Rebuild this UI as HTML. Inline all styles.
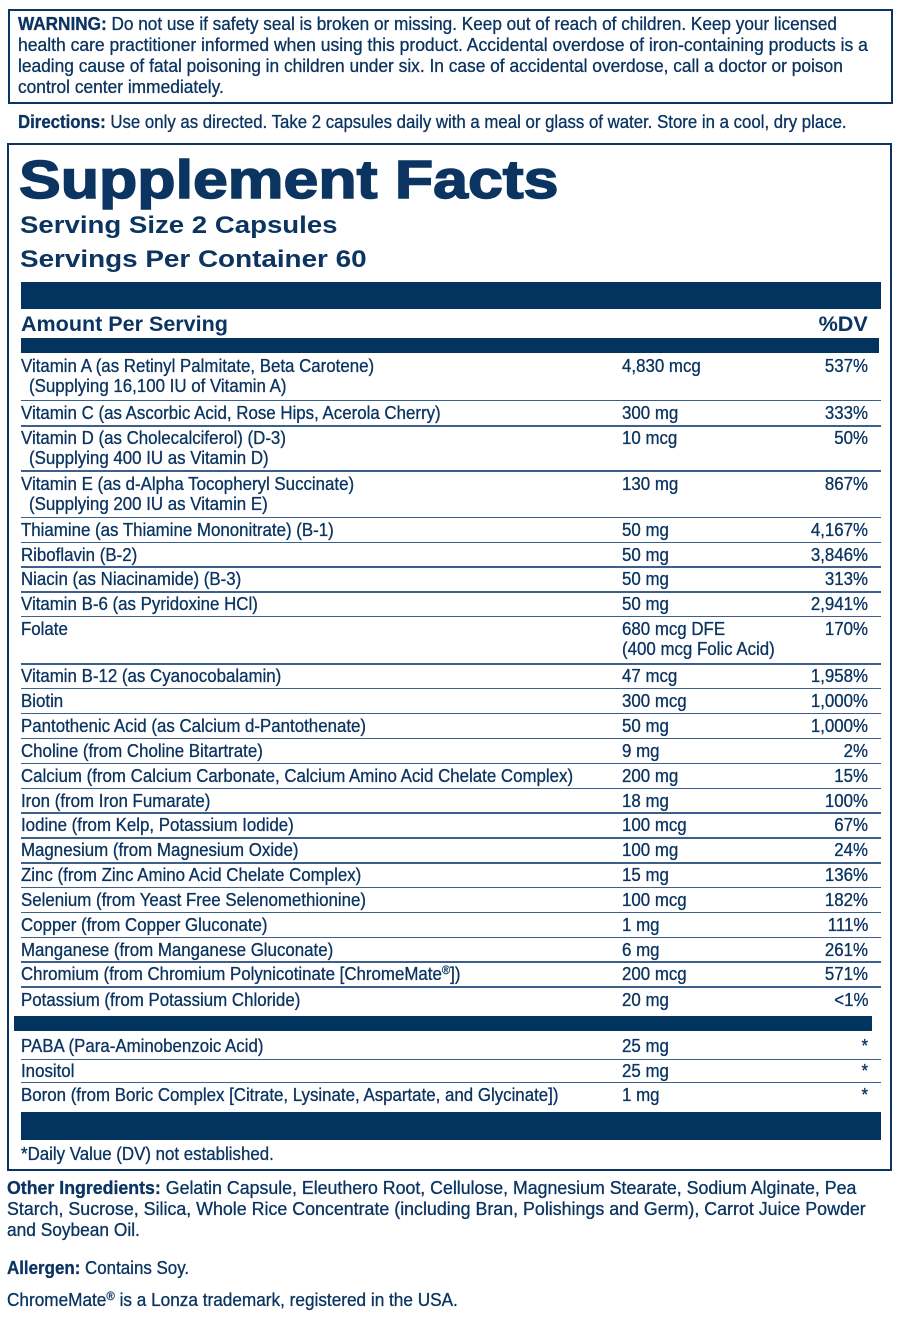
<!DOCTYPE html>
<html><head><meta charset="utf-8">
<style>
html,body{margin:0;padding:0;background:#fff;}
body{width:900px;height:1320px;position:relative;overflow:hidden;font-family:"Liberation Sans",Arial,sans-serif;color:#0b3461;}
.s{position:absolute;white-space:nowrap;font-size:18px;line-height:20px;transform-origin:0 0;transform:scaleX(.937);-webkit-text-stroke:0.3px #0b3461;}
.r{transform-origin:100% 0;right:31.7px;}
.w{position:absolute;white-space:nowrap;font-size:18px;line-height:21px;transform-origin:0 0;left:18.3px;-webkit-text-stroke:0.3px #0b3461;}
.b{position:absolute;background:#03345f;}
.ln{position:absolute;left:20.7px;width:860.3px;height:1.5px;background:#3d5f8c;}
.box{position:absolute;border:2px solid #0c3461;box-sizing:border-box;}
sup{font-size:12px;vertical-align:6px;line-height:0;}
</style></head><body>

<div class="box" style="left:7.5px;top:8.5px;width:885px;height:95px;"></div>
<div class="w" style="top:14px;transform:scaleX(.954)"><b>WARNING:</b> Do not use if safety seal is broken or missing. Keep out of reach of children. Keep your licensed</div>
<div class="w" style="top:35px;transform:scaleX(.973)">health care practitioner informed when using this product. Accidental overdose of iron-containing products is a</div>
<div class="w" style="top:56px;transform:scaleX(.963)">leading cause of fatal poisoning in children under six. In case of accidental overdose, call a doctor or poison</div>
<div class="w" style="top:77px;transform:scaleX(.963)">control center immediately.</div>

<div class="w" style="top:111.6px;transform:scaleX(.933)"><b>Directions:</b> Use only as directed. Take 2 capsules daily with a meal or glass of water. Store in a cool, dry place.</div>

<div class="box" style="left:7.3px;top:143px;width:885px;height:1028px;"></div>

<div style="position:absolute;left:19px;top:152.6px;font-size:54px;line-height:54px;font-weight:bold;white-space:nowrap;transform-origin:0 0;transform:scaleX(1.16);-webkit-text-stroke:1.5px #0b3461;">Supplement Facts</div>
<div style="position:absolute;left:20px;top:214px;font-size:24px;line-height:24px;font-weight:bold;white-space:nowrap;transform-origin:0 0;transform:scaleX(1.15);">Serving Size 2 Capsules</div>
<div style="position:absolute;left:20px;top:247.7px;font-size:24px;line-height:24px;font-weight:bold;white-space:nowrap;transform-origin:0 0;transform:scaleX(1.16);">Servings Per Container 60</div>

<div class="b" style="left:20.7px;top:281.7px;width:860px;height:27.3px;"></div>
<div style="position:absolute;left:20.7px;top:313.9px;font-size:21px;line-height:21px;font-weight:bold;white-space:nowrap;transform-origin:0 0;transform:scaleX(1.025);">Amount Per Serving</div>
<div style="position:absolute;right:31.7px;top:313.9px;font-size:21px;line-height:21px;font-weight:bold;white-space:nowrap;transform-origin:100% 0;transform:scaleX(1.03);">%DV</div>
<div class="b" style="left:20.7px;top:338px;width:858.3px;height:15px;"></div>

<!-- Vitamin A -->
<div class="s" style="left:20.7px;top:355.75px">Vitamin A (as Retinyl Palmitate, Beta Carotene)</div>
<div class="s" style="left:29px;top:375.75px">(Supplying 16,100 IU of Vitamin A)</div>
<div class="s" style="left:622.3px;top:355.75px">4,830 mcg</div>
<div class="s r" style="top:355.75px">537%</div>
<div class="ln" style="top:399.5px"></div>
<!-- Vitamin C -->
<div class="s" style="left:20.7px;top:402.75px">Vitamin C (as Ascorbic Acid, Rose Hips, Acerola Cherry)</div>
<div class="s" style="left:622.3px;top:402.75px">300 mg</div>
<div class="s r" style="top:402.75px">333%</div>
<div class="ln" style="top:425px"></div>
<!-- Vitamin D -->
<div class="s" style="left:20.7px;top:428.25px">Vitamin D (as Cholecalciferol) (D-3)</div>
<div class="s" style="left:29px;top:448.25px">(Supplying 400 IU as Vitamin D)</div>
<div class="s" style="left:622.3px;top:428.25px">10 mcg</div>
<div class="s r" style="top:428.25px">50%</div>
<div class="ln" style="top:470px"></div>
<!-- Vitamin E -->
<div class="s" style="left:20.7px;top:473.5px">Vitamin E (as d-Alpha Tocopheryl Succinate)</div>
<div class="s" style="left:29px;top:493.5px">(Supplying 200 IU as Vitamin E)</div>
<div class="s" style="left:622.3px;top:473.5px">130 mg</div>
<div class="s r" style="top:473.5px">867%</div>
<div class="ln" style="top:516.5px"></div>
<!-- Thiamine -->
<div class="s" style="left:20.7px;top:519.75px">Thiamine (as Thiamine Mononitrate) (B-1)</div>
<div class="s" style="left:622.3px;top:519.75px">50 mg</div>
<div class="s r" style="top:519.75px">4,167%</div>
<div class="ln" style="top:541.5px"></div>
<!-- Riboflavin -->
<div class="s" style="left:20.7px;top:544.75px">Riboflavin (B-2)</div>
<div class="s" style="left:622.3px;top:544.75px">50 mg</div>
<div class="s r" style="top:544.75px">3,846%</div>
<div class="ln" style="top:566.2px"></div>
<!-- Niacin -->
<div class="s" style="left:20.7px;top:569.45px">Niacin (as Niacinamide) (B-3)</div>
<div class="s" style="left:622.3px;top:569.45px">50 mg</div>
<div class="s r" style="top:569.45px">313%</div>
<div class="ln" style="top:591px"></div>
<!-- B-6 -->
<div class="s" style="left:20.7px;top:594.25px">Vitamin B-6 (as Pyridoxine HCl)</div>
<div class="s" style="left:622.3px;top:594.25px">50 mg</div>
<div class="s r" style="top:594.25px">2,941%</div>
<div class="ln" style="top:615.8px"></div>
<!-- Folate -->
<div class="s" style="left:20.7px;top:619.05px">Folate</div>
<div class="s" style="left:622.3px;top:619.05px">680 mcg DFE</div>
<div class="s" style="left:622.3px;top:639.05px">(400 mcg Folic Acid)</div>
<div class="s r" style="top:619.05px">170%</div>
<div class="ln" style="top:663px"></div>
<!-- B-12 -->
<div class="s" style="left:20.7px;top:666.25px">Vitamin B-12 (as Cyanocobalamin)</div>
<div class="s" style="left:622.3px;top:666.25px">47 mcg</div>
<div class="s r" style="top:666.25px">1,958%</div>
<div class="ln" style="top:687.8px"></div>
<!-- Biotin -->
<div class="s" style="left:20.7px;top:691.05px">Biotin</div>
<div class="s" style="left:622.3px;top:691.05px">300 mcg</div>
<div class="s r" style="top:691.05px">1,000%</div>
<div class="ln" style="top:712.8px"></div>
<!-- Pantothenic -->
<div class="s" style="left:20.7px;top:716.05px">Pantothenic Acid (as Calcium d-Pantothenate)</div>
<div class="s" style="left:622.3px;top:716.05px">50 mg</div>
<div class="s r" style="top:716.05px">1,000%</div>
<div class="ln" style="top:737.8px"></div>
<!-- Choline -->
<div class="s" style="left:20.7px;top:741.05px">Choline (from Choline Bitartrate)</div>
<div class="s" style="left:622.3px;top:741.05px">9 mg</div>
<div class="s r" style="top:741.05px">2%</div>
<div class="ln" style="top:762.5px"></div>
<!-- Calcium -->
<div class="s" style="left:20.7px;top:765.75px">Calcium (from Calcium Carbonate, Calcium Amino Acid Chelate Complex)</div>
<div class="s" style="left:622.3px;top:765.75px">200 mg</div>
<div class="s r" style="top:765.75px">15%</div>
<div class="ln" style="top:787.5px"></div>
<!-- Iron -->
<div class="s" style="left:20.7px;top:790.75px">Iron (from Iron Fumarate)</div>
<div class="s" style="left:622.3px;top:790.75px">18 mg</div>
<div class="s r" style="top:790.75px">100%</div>
<div class="ln" style="top:812.2px"></div>
<!-- Iodine -->
<div class="s" style="left:20.7px;top:815.45px">Iodine (from Kelp, Potassium Iodide)</div>
<div class="s" style="left:622.3px;top:815.45px">100 mcg</div>
<div class="s r" style="top:815.45px">67%</div>
<div class="ln" style="top:837.2px"></div>
<!-- Magnesium -->
<div class="s" style="left:20.7px;top:840.45px">Magnesium (from Magnesium Oxide)</div>
<div class="s" style="left:622.3px;top:840.45px">100 mg</div>
<div class="s r" style="top:840.45px">24%</div>
<div class="ln" style="top:862.2px"></div>
<!-- Zinc -->
<div class="s" style="left:20.7px;top:865.45px">Zinc (from Zinc Amino Acid Chelate Complex)</div>
<div class="s" style="left:622.3px;top:865.45px">15 mg</div>
<div class="s r" style="top:865.45px">136%</div>
<div class="ln" style="top:886.8px"></div>
<!-- Selenium -->
<div class="s" style="left:20.7px;top:890.05px">Selenium (from Yeast Free Selenomethionine)</div>
<div class="s" style="left:622.3px;top:890.05px">100 mcg</div>
<div class="s r" style="top:890.05px">182%</div>
<div class="ln" style="top:911.5px"></div>
<!-- Copper -->
<div class="s" style="left:20.7px;top:914.75px">Copper (from Copper Gluconate)</div>
<div class="s" style="left:622.3px;top:914.75px">1 mg</div>
<div class="s r" style="top:914.75px">111%</div>
<div class="ln" style="top:936.5px"></div>
<!-- Manganese -->
<div class="s" style="left:20.7px;top:939.75px">Manganese (from Manganese Gluconate)</div>
<div class="s" style="left:622.3px;top:939.75px">6 mg</div>
<div class="s r" style="top:939.75px">261%</div>
<div class="ln" style="top:961.2px"></div>
<!-- Chromium -->
<div class="s" style="left:20.7px;top:964.45px">Chromium (from Chromium Polynicotinate [ChromeMate<sup>®</sup>])</div>
<div class="s" style="left:622.3px;top:964.45px">200 mcg</div>
<div class="s r" style="top:964.45px">571%</div>
<div class="ln" style="top:986.2px"></div>
<!-- Potassium -->
<div class="s" style="left:20.7px;top:989.95px">Potassium (from Potassium Chloride)</div>
<div class="s" style="left:622.3px;top:989.95px">20 mg</div>
<div class="s r" style="top:989.95px">&lt;1%</div>

<div class="b" style="left:14px;top:1016px;width:858.3px;height:15px;"></div>

<!-- PABA -->
<div class="s" style="left:20.7px;top:1036px">PABA (Para-Aminobenzoic Acid)</div>
<div class="s" style="left:622.3px;top:1036px">25 mg</div>
<div class="s r" style="top:1036px">*</div>
<div class="ln" style="top:1058.5px"></div>
<!-- Inositol -->
<div class="s" style="left:20.7px;top:1061px">Inositol</div>
<div class="s" style="left:622.3px;top:1061px">25 mg</div>
<div class="s r" style="top:1061px">*</div>
<div class="ln" style="top:1081.8px"></div>
<!-- Boron -->
<div class="s" style="left:20.7px;top:1085.45px">Boron (from Boric Complex [Citrate, Lysinate, Aspartate, and Glycinate])</div>
<div class="s" style="left:622.3px;top:1085.45px">1 mg</div>
<div class="s r" style="top:1085.45px">*</div>

<div class="b" style="left:20.7px;top:1112.3px;width:860.3px;height:27.7px;"></div>

<div class="s" style="left:20.7px;top:1143.75px">*Daily Value (DV) not established.</div>

<div class="w" style="left:7.3px;top:1178.3px;transform:scaleX(.986)"><b>Other Ingredients:</b> Gelatin Capsule, Eleuthero Root, Cellulose, Magnesium Stearate, Sodium Alginate, Pea</div>
<div class="w" style="left:7.3px;top:1199px;transform:scaleX(.99)">Starch, Sucrose, Silica, Whole Rice Concentrate (including Bran, Polishings and Germ), Carrot Juice Powder</div>
<div class="w" style="left:7.3px;top:1220px;transform:scaleX(.962)">and Soybean Oil.</div>

<div class="w" style="left:7.3px;top:1258.3px;transform:scaleX(.94)"><b>Allergen:</b> Contains Soy.</div>
<div class="w" style="left:7.3px;top:1290.3px;transform:scaleX(.955)">ChromeMate<sup>®</sup> is a Lonza trademark, registered in the USA.</div>

</body></html>
